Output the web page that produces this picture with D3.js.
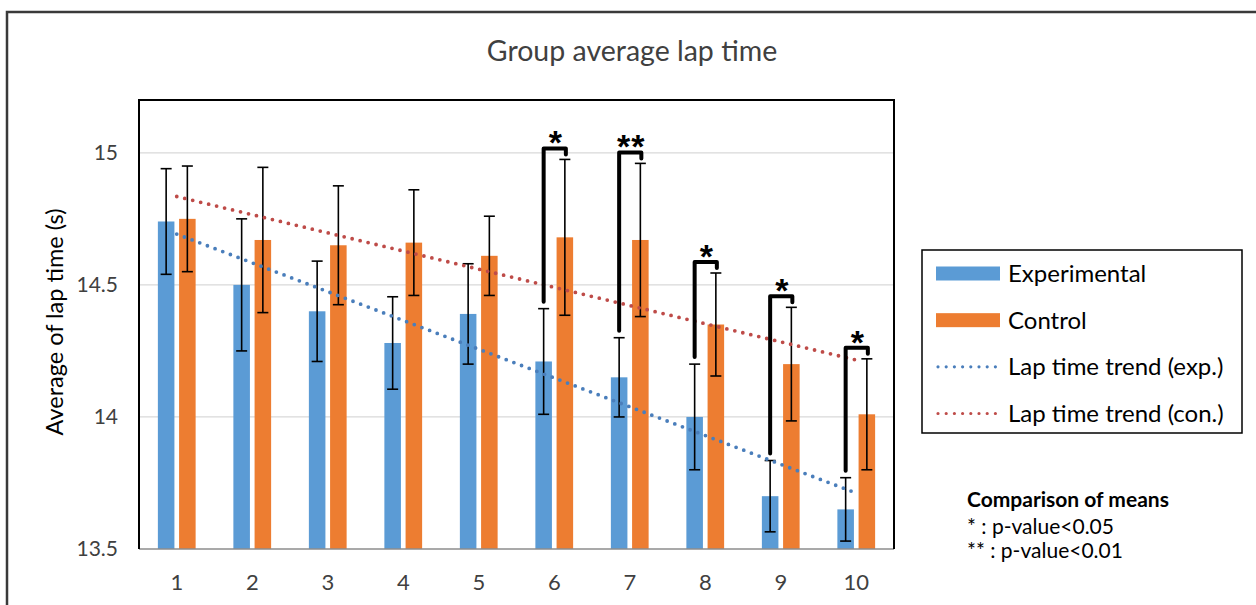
<!DOCTYPE html>
<html>
<head>
<meta charset="utf-8">
<script src="https://cdn.jsdelivr.net/npm/d3@7"></script>
<style>
  html, body { margin: 0; padding: 0; background: #fff; }
  svg { display: block; font-family: Lato, "Open Sans", sans-serif; }
</style>
</head>
<body>
<svg id="chart" width="1256" height="605"></svg>
<script>
// ---- data ----
const categories = ["1","2","3","4","5","6","7","8","9","10"];
const experimental = [14.74, 14.50, 14.40, 14.28, 14.39, 14.21, 14.15, 14.00, 13.70, 13.65];
const control      = [14.75, 14.67, 14.65, 14.66, 14.61, 14.68, 14.67, 14.35, 14.20, 14.01];
const experimentalErr = [0.20, 0.25, 0.19, 0.175, 0.19, 0.20, 0.15, 0.20, 0.135, 0.12];
const controlErr      = [0.20, 0.275, 0.225, 0.20, 0.15, 0.295, 0.29, 0.195, 0.215, 0.21];
const significance = ["", "", "", "", "", "*", "**", "*", "*", "*"];
const yTicks = [13.5, 14, 14.5, 15];
const seriesNames = ["Experimental", "Control"];
const trendNames = ["Lap time trend (exp.)", "Lap time trend (con.)"];
const noteLines = ["* : p-value<0.05", "** : p-value<0.01"];

// ---- layout ----
const W = 1256, H = 605;
const plot = { left: 139, right: 894, top: 100, bottom: 549 };
const colors = { exp: "#5B9BD5", ctrl: "#ED7D31", expTrend: "#4A7EBB", ctrlTrend: "#BE4B48" };

const svg = d3.select("#chart");

// outer frame
svg.append("path")
  .attr("d", `M7,${H + 5} L7,12 L${W + 5},12`)
  .attr("fill", "none").attr("stroke", "#3a3a3a").attr("stroke-width", 2.5);

// title
svg.append("text")
  .attr("x", 632).attr("y", 61)
  .attr("text-anchor", "middle")
  .attr("font-size", 28.5).attr("fill", "#404040")
  .text("Group average lap time");

// scales
const x0 = d3.scaleBand().domain(categories).range([plot.left, plot.right])
  .paddingInner(0.5).paddingOuter(0.25);
const x1 = d3.scaleBand().domain(["exp", "ctrl"]).range([0, x0.bandwidth()]).paddingInner(0.22);
const y = d3.scaleLinear().domain([13.5, 15.2]).range([plot.bottom, plot.top]);

// gridlines
svg.append("g").selectAll("line").data(yTicks.slice(1)).join("line")
  .attr("x1", plot.left).attr("x2", plot.right)
  .attr("y1", d => y(d)).attr("y2", d => y(d))
  .attr("stroke", "#d9d9d9").attr("stroke-width", 1.2);

// y axis labels
const yAxis = d3.axisLeft(y).tickValues(yTicks).tickFormat(d3.format("")).tickSize(0).tickPadding(21);
const gy = svg.append("g").attr("transform", `translate(${plot.left},0)`).call(yAxis);
gy.select(".domain").remove();
gy.selectAll("text").attr("font-size", 21).attr("fill", "#404040").attr("font-family", "Lato, sans-serif");

// x axis labels
const xAxis = d3.axisBottom(x0).tickSize(0).tickPadding(25);
const gx = svg.append("g").attr("transform", `translate(0,${plot.bottom})`).call(xAxis);
gx.select(".domain").remove();
gx.selectAll("text").attr("font-size", 22).attr("fill", "#404040").attr("font-family", "Lato, sans-serif");

// y axis title
svg.append("text")
  .attr("transform", "translate(63,322) rotate(-90)")
  .attr("text-anchor", "middle")
  .attr("font-size", 23.5).attr("fill", "#000")
  .text("Average of lap time (s)");

// bars
const rows = categories.map((c, i) => ({
  cat: c, exp: experimental[i], ctrl: control[i],
  expErr: experimentalErr[i], ctrlErr: controlErr[i], sig: significance[i]
}));
const barG = svg.append("g");
[["exp", colors.exp], ["ctrl", colors.ctrl]].forEach(([key, col]) => {
  barG.selectAll(`rect.${key}`).data(rows).join("rect")
    .attr("class", key)
    .attr("x", d => x0(d.cat) + x1(key))
    .attr("width", x1.bandwidth())
    .attr("y", d => y(d[key]))
    .attr("height", d => plot.bottom - y(d[key]))
    .attr("fill", col);
});

// error bars
const cx = (d, key) => x0(d.cat) + x1(key) + x1.bandwidth() / 2;
const errG = svg.append("g").attr("stroke", "#000").attr("stroke-width", 1.6);
["exp", "ctrl"].forEach(key => {
  const ek = key + "Err";
  rows.forEach(d => {
    const xc = cx(d, key), yt = y(d[key] + d[ek]), yb = y(d[key] - d[ek]);
    errG.append("line").attr("x1", xc).attr("x2", xc).attr("y1", yt).attr("y2", yb);
    errG.append("line").attr("x1", xc - 5.5).attr("x2", xc + 5.5).attr("y1", yt).attr("y2", yt);
    errG.append("line").attr("x1", xc - 5.5).attr("x2", xc + 5.5).attr("y1", yb).attr("y2", yb);
  });
});

// linear trendlines (least squares, as the spreadsheet computes them)
function linfit(vals) {
  const n = vals.length, xs = d3.range(1, n + 1);
  const mx = d3.mean(xs), my = d3.mean(vals);
  const sxy = d3.sum(xs, (xv, i) => (xv - mx) * (vals[i] - my));
  const sxx = d3.sum(xs, xv => (xv - mx) ** 2);
  const b = sxy / sxx, a = my - b * mx;
  return xs.map(xv => a + b * xv);
}
const catCenter = c => x0(c) + x0.bandwidth() / 2;
const line = d3.line().x(d => catCenter(d.cat)).y(d => y(d.v));
[[experimental, colors.expTrend], [control, colors.ctrlTrend]].forEach(([vals, col]) => {
  const fit = linfit(vals).map((v, i) => ({ cat: categories[i], v }));
  const ends = [fit[0], fit[fit.length - 1]];
  svg.append("path").attr("d", line(ends))
    .attr("fill", "none").attr("stroke", col).attr("stroke-width", 3.8)
    .attr("stroke-linecap", "round").attr("stroke-dasharray", "0 8.2");
});

// plot border
svg.append("line").attr("x1", plot.left).attr("x2", plot.right)
  .attr("y1", plot.bottom).attr("y2", plot.bottom)
  .attr("stroke", "#8c8c8c").attr("stroke-width", 1.5);
svg.append("path")
  .attr("d", `M${plot.left},${plot.bottom} L${plot.left},${plot.top} L${plot.right},${plot.top} L${plot.right},${plot.bottom}`)
  .attr("fill", "none").attr("stroke", "#000").attr("stroke-width", 2);

// significance brackets
const sigG = svg.append("g");
rows.filter(d => d.sig).forEach(d => {
  const xl = cx(d, "exp"), xr = cx(d, "ctrl") + 1;
  const top = y(d.ctrl + d.ctrlErr) - 11;
  const legBottom = y(d.exp + d.expErr) - 7;
  sigG.append("path")
    .attr("d", `M${xl},${legBottom} L${xl},${top} L${xr},${top} L${xr},${top + 6}`)
    .attr("fill", "none").attr("stroke", "#000").attr("stroke-width", 4)
    .attr("stroke-linejoin", "round").attr("stroke-linecap", "round");
  sigG.append("text")
    .attr("x", (xl + xr) / 2 + 1).attr("y", top + 6)
    .attr("text-anchor", "middle")
    .attr("font-size", 34).attr("font-weight", "bold")
    .attr("font-family", "Liberation Sans, Arial, sans-serif")
    .attr("letter-spacing", 1)
    .text(d.sig);
});

// legend
const lg = svg.append("g");
lg.append("rect").attr("x", 922).attr("y", 250).attr("width", 320).attr("height", 183)
  .attr("fill", "#fff").attr("stroke", "#000").attr("stroke-width", 1.5);
const legendItems = [
  { name: seriesNames[0], type: "bar", color: colors.exp },
  { name: seriesNames[1], type: "bar", color: colors.ctrl },
  { name: trendNames[0], type: "dot", color: colors.expTrend },
  { name: trendNames[1], type: "dot", color: colors.ctrlTrend }
];
const legendRow = d3.scalePoint().domain(d3.range(legendItems.length)).range([273.5, 413.5]);
legendItems.forEach((it, i) => {
  const cy = legendRow(i);
  if (it.type === "bar") {
    lg.append("rect").attr("x", 936).attr("y", cy - 7).attr("width", 64).attr("height", 14).attr("fill", it.color);
  } else {
    lg.append("line").attr("x1", 938).attr("x2", 1000).attr("y1", cy).attr("y2", cy)
      .attr("stroke", it.color).attr("stroke-width", 3.2)
      .attr("stroke-linecap", "round").attr("stroke-dasharray", "0 8.2");
  }
  lg.append("text").attr("x", 1008).attr("y", cy + 8.5)
    .attr("font-size", 24).attr("fill", "#000").text(it.name);
});

// notes
const ng = svg.append("g").attr("font-size", 21).attr("fill", "#000");
ng.append("text").attr("x", 967).attr("y", 507).attr("font-weight", "bold").text("Comparison of means");
noteLines.forEach((t, i) => {
  ng.append("text").attr("x", 967).attr("y", 534 + i * 24).text(t);
});
</script>
</body>
</html>
